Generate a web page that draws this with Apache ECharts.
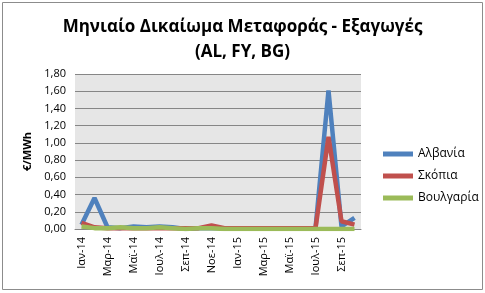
<!DOCTYPE html>
<html><head><meta charset="utf-8">
<script src="https://cdn.jsdelivr.net/npm/echarts@6/dist/echarts.min.js"></script>
<style>html,body{margin:0;padding:0;background:#fff}#c{width:485px;height:293px}</style>
</head><body><div id="c"></div>
<script>
const categories = ['Ιαν-14','Φεβ-14','Μαρ-14','Απρ-14','Μαϊ-14','Ιουν-14','Ιουλ-14','Αυγ-14','Σεπ-14','Οκτ-14','Νοε-14','Δεκ-14',
  'Ιαν-15','Φεβ-15','Μαρ-15','Απρ-15','Μαϊ-15','Ιουν-15','Ιουλ-15','Αυγ-15','Σεπ-15','Οκτ-15'];
const albania  = [0.05,0.36,0.02,0.01,0.03,0.02,0.03,0.02,0.00,0.01,0.01,0.01,0.01,0.01,0.01,0.01,0.01,0.01,0.01,1.61,0.03,0.13];
const skopia   = [0.07,0.02,0.01,0.01,0.01,0.01,0.01,0.01,0.01,0.01,0.04,0.01,0.01,0.01,0.01,0.01,0.01,0.01,0.01,1.07,0.09,0.05];
const bulgaria = [0.03,0.01,0.01,0.02,0.01,0.01,0.02,0.01,0.00,0.01,0.01,0.00,0.00,0.00,0.00,0.00,0.00,0.00,0.00,0.00,0.00,0.00];
const yTicks = [0,0.2,0.4,0.6,0.8,1.0,1.2,1.4,1.6,1.8];
const names = ['Αλβανία','Σκόπια','Βουλγαρία'];
const colors = ['#4F81BD','#C0504D','#9BBB59'];
const font = 'Open Sans';
const chart = echarts.init(document.getElementById('c'));
const mk = (n,d,c)=>({name:n,type:'line',data:d,symbol:'none',smooth:false,
  lineStyle:{width:4.5,color:c},itemStyle:{color:c}});
chart.setOption({
  animation:false,
  backgroundColor:'#fff',
  graphic:[{type:'rect',shape:{x:2.5,y:2.5,width:480,height:287},style:{fill:'none',stroke:'#8c8c8c',lineWidth:1},silent:true}],
  title:{text:'Μηνιαίο Δικαίωμα Μεταφοράς - Εξαγωγές\n(AL, FY, BG)',left:'center',top:10,
    textStyle:{fontFamily:font,fontSize:17,fontWeight:'bold',color:'#000',lineHeight:25}},
  legend:{orient:'vertical',left:378,top:143,itemWidth:30,itemHeight:5,itemGap:10,icon:'rect',
    textStyle:{fontFamily:font,fontSize:12,color:'#000'},data:names},
  grid:{left:75,right:124,top:74,bottom:64,containLabel:false,backgroundColor:'#e6e6e6',show:true,borderWidth:0},
  xAxis:{type:'category',data:categories,boundaryGap:true,
    axisLine:{lineStyle:{color:'#868686'}},axisTick:{show:false},
    axisLabel:{interval:1,rotate:90,fontFamily:font,fontSize:11,color:'#000',margin:8}},
  yAxis:{type:'value',min:0,max:1.8,interval:0.2,
    name:'€/MWh',nameLocation:'middle',nameGap:42,nameRotate:90,
    nameTextStyle:{fontFamily:font,fontSize:11,fontWeight:'bold',color:'#000'},
    axisLine:{show:false},axisTick:{show:false},
    splitLine:{lineStyle:{color:'#868686',width:1}},
    axisLabel:{fontFamily:font,fontSize:11,color:'#000',margin:9,
      formatter:v=>{const t=yTicks.find(x=>Math.abs(x-v)<1e-9);return (t===undefined?v:t).toFixed(2).replace('.',',');}}},
  series:[mk(names[0],albania,colors[0]),mk(names[1],skopia,colors[1]),mk(names[2],bulgaria,colors[2])]
});
</script></body></html>
